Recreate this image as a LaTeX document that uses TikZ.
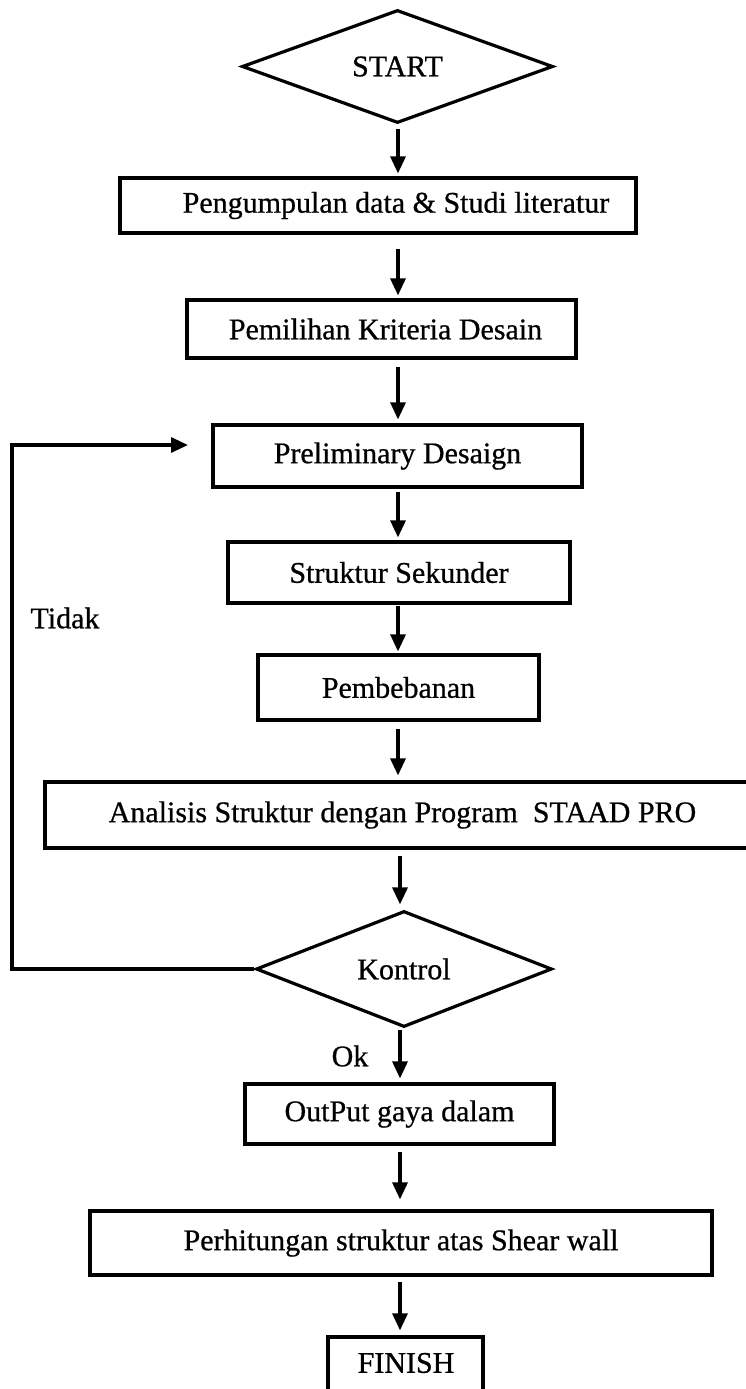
\documentclass[tikz,border=0pt]{standalone}
\usepackage{fontspec}
\setmainfont{Liberation Serif}
\newfontfamily\scanfont{Liberation Serif}[FakeBold=0.7]
\usetikzlibrary{shapes.geometric,arrows.meta}
\begin{document}
\begin{tikzpicture}[x=1pt,y=-1pt,
  every node/.style={font=\scanfont\fontsize{30}{36}\selectfont, inner sep=0pt},
  stepbox/.style={draw, line width=3.2pt, rectangle},
  decision/.style={draw, line width=3.2pt, diamond},
  arr/.style={line width=3.2pt, -{Triangle[length=17pt,width=15pt]}}]
\useasboundingbox (0,0) rectangle (746,1389);
% nodes
\node[decision, minimum width=311pt, minimum height=113pt] (start) at (397.5,66.5) {START};
\node[stepbox, minimum width=516pt, minimum height=55pt] (pgd) at (378,205.5) {\hspace*{36pt}Pengumpulan data \& Studi literatur};
\node[stepbox, minimum width=389pt, minimum height=58pt] (pkd) at (381.5,329) {\hspace*{8pt}Pemilihan Kriteria Desain};
\node[stepbox, minimum width=369pt, minimum height=62pt] (pre) at (397.5,456) {Preliminary Desaign};
\node[stepbox, minimum width=342pt, minimum height=61pt] (sek) at (399,572.5) {Struktur Sekunder};
\node[stepbox, minimum width=281pt, minimum height=65pt] (beb) at (398.5,687.5) {Pembebanan};
\node[stepbox, minimum width=715pt, minimum height=66pt] (ana) at (402.5,815) {Analisis Struktur dengan Program~~STAAD PRO};
\node[decision, minimum width=296pt, minimum height=116pt] (kon) at (404,969) {Kontrol};
\node[stepbox, minimum width=309pt, minimum height=60pt] (out) at (399.5,1114) {OutPut gaya dalam};
\node[stepbox, minimum width=622pt, minimum height=64pt] (per) at (401,1243) {Perhitungan struktur atas Shear wall};
\node[stepbox, minimum width=155pt, minimum height=110pt] (fin) at (405.5,1392) {};
\node (fintxt) at (406,1363) {FINISH};
\node (tidak) at (65,618) {Tidak};
\node (ok) at (350,1056) {Ok};
% column coordinates
\coordinate (c1) at (398,0);
\coordinate (c2) at (400,0);
% vertical arrows
\draw[arr, shorten <=4pt, shorten >=3pt] (start.south -| c1) -- (pgd.north -| c1);
\draw[arr, shorten <=14pt, shorten >=3pt] (pgd.south -| c1) -- (pkd.north -| c1);
\draw[arr, shorten <=7pt, shorten >=4pt] (pkd.south -| c1) -- (pre.north -| c1);
\draw[arr, shorten <=3pt, shorten >=3pt] (pre.south -| c1) -- (sek.north -| c1);
\draw[arr, shorten <=1pt, shorten >=2pt] (sek.south -| c1) -- (beb.north -| c1);
\draw[arr, shorten <=7pt, shorten >=5pt] (beb.south -| c1) -- (ana.north -| c1);
\draw[arr, shorten <=6pt, shorten >=5pt] (ana.south -| c2) -- (kon.north -| c2);
\draw[arr, shorten <=1pt, shorten >=4pt] (kon.south -| c2) -- (out.north -| c2);
\draw[arr, shorten <=6pt, shorten >=10pt] (out.south -| c2) -- (per.north -| c2);
\draw[arr, shorten <=5pt, shorten >=5pt] (per.south -| c2) -- (fin.north -| c2);
% feedback loop
\coordinate (fbl) at (12,969);
\coordinate (fbend) at (188,445);
\draw[arr, line join=miter] (kon.west) -- (fbl) |- (fbend);
\end{tikzpicture}
\end{document}
